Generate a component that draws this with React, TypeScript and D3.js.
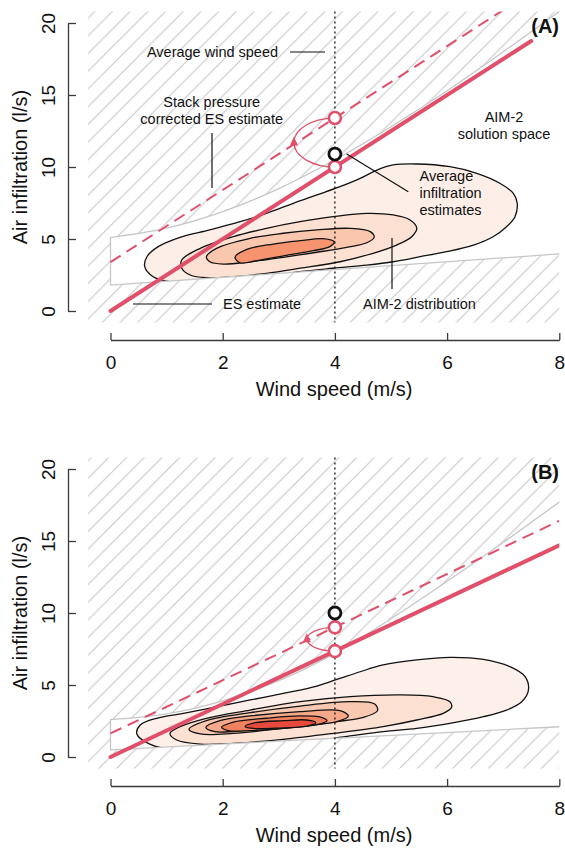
import React, { useEffect, useRef } from "react";
import * as d3 from "d3";

type Pt = [number, number];

const FONT = "'Liberation Sans', Arial, Helvetica, sans-serif";
const RED = "#E1506B";
const AXIS = "#3a3a3a";

// axes
const windTicks = [0, 2, 4, 6, 8];
const flowTicks = [0, 5, 10, 15, 20];
const avgWindSpeed = 4;

// AIM-2 solution space bounds (l/s), upper read at each wind speed, lower at 0 and 8 m/s
const boundWind = [0, 1, 2, 3, 4, 5, 6, 7, 8];
const upperBoundA = [5.1, 5.75, 6.9, 8.5, 10.5, 12.8, 15.3, 18.0, 20.8];
const lowerBoundA = [1.8, 3.96];
const upperBoundB = [2.6, 3.0, 3.9, 5.3, 7.2, 9.6, 12.2, 14.9, 17.7];
const lowerBoundB = [0.5, 2.1];

// ES estimate (solid) and stack pressure corrected ES estimate (dashed)
const esLineA: Pt[] = [[0, 0], [7.5, 18.75]];
const stackLineA: Pt[] = [[0, 3.4], [7.2, 21.4]];
const esLineB: Pt[] = [[0, 0], [8, 14.7]];
const stackLineB: Pt[] = [[0, 1.64], [8, 16.4]];

// estimates at the average wind speed
const esPointA = 10.0, stackPointA = 13.4, aimPointA = 10.9;
const esPointB = 7.35, stackPointB = 9.0, aimPointB = 10.0;

// AIM-2 distribution contours, panel A (outer -> inner)
const contourA1: Pt[] = [[1.06, 2.03], [0.76, 2.38], [0.61, 3.08], [0.65, 3.77], [0.85, 4.47], [1.24, 5.12], [1.77, 5.63], [2.31, 6.2], [2.78, 6.78], [3.26, 7.48], [3.68, 8.06], [4.09, 8.63], [4.45, 9.21], [4.75, 9.79], [5.04, 10.14], [5.46, 10.21], [6.05, 10.02], [6.53, 9.56], [6.94, 8.87], [7.18, 8.17], [7.25, 7.48], [7.21, 6.55], [7.06, 5.85], [6.82, 5.16], [6.47, 4.58], [5.99, 4.12], [5.52, 3.77], [5.04, 3.42], [4.57, 3.19], [3.97, 2.97], [3.38, 2.73], [2.49, 2.2], [1.6, 1.9]];
const contourA2: Pt[] = [[1.27, 3.54], [1.6, 4.35], [2.19, 5.16], [2.78, 5.74], [3.38, 6.2], [3.97, 6.55], [4.57, 6.78], [5.04, 6.67], [5.34, 6.32], [5.46, 5.74], [5.37, 5.16], [5.1, 4.58], [4.68, 4.01], [4.09, 3.42], [3.38, 2.97], [2.78, 2.62], [2.19, 2.38], [1.71, 2.31], [1.42, 2.5], [1.27, 2.97]];
const contourA3: Pt[] = [[1.71, 3.77], [1.89, 4.35], [2.49, 5.05], [3.08, 5.4], [3.68, 5.63], [4.27, 5.74], [4.63, 5.51], [4.7, 5.12], [4.57, 4.74], [4.21, 4.42], [3.68, 4.08], [3.08, 3.73], [2.49, 3.42], [2.01, 3.26], [1.77, 3.42]];
const contourA4: Pt[] = [[2.22, 3.73], [2.43, 4.28], [2.9, 4.65], [3.38, 4.88], [3.79, 5.02], [3.99, 4.79], [3.91, 4.47], [3.62, 4.19], [3.14, 3.87], [2.66, 3.54], [2.31, 3.35]];
const fillsA = ["#FDEFE8", "#FCE0D2", "#F9C6AE", "#F5946F"];

// AIM-2 distribution contours, panel B (outer -> inner)
const contourB1: Pt[] = [[1.18, 0.49], [0.7, 0.9], [0.47, 1.6], [0.53, 2.22], [0.82, 2.69], [1.3, 3.03], [1.89, 3.49], [2.49, 3.96], [3.08, 4.42], [3.68, 4.93], [4.09, 5.46], [4.45, 5.92], [4.86, 6.39], [5.46, 6.74], [6.05, 6.92], [6.65, 6.78], [7.12, 6.27], [7.39, 5.58], [7.45, 4.65], [7.33, 3.84], [7.06, 3.26], [6.65, 2.8], [6.05, 2.34], [5.46, 1.99], [4.86, 1.76], [4.27, 1.46], [3.38, 0.99], [2.19, 0.6]];
const contourB2: Pt[] = [[1.06, 1.64], [1.24, 2.11], [1.71, 2.69], [2.49, 3.26], [3.38, 3.84], [4.27, 4.19], [5.16, 4.31], [5.75, 4.19], [6.05, 3.84], [6.08, 3.45], [5.93, 3.03], [5.46, 2.57], [4.86, 2.11], [3.97, 1.64], [3.08, 1.23], [2.19, 0.95], [1.6, 0.9], [1.18, 1.18]];
const contourB3: Pt[] = [[1.4, 1.92], [1.71, 2.52], [2.49, 3.08], [3.38, 3.54], [4.27, 3.84], [4.71, 3.68], [4.76, 3.22], [4.51, 2.75], [3.97, 2.43], [3.08, 1.99], [2.19, 1.64], [1.6, 1.6]];
const contourB4: Pt[] = [[1.7, 2.06], [1.95, 2.52], [2.49, 2.85], [3.38, 3.15], [4.09, 3.22], [4.24, 2.85], [4.03, 2.45], [3.38, 2.15], [2.49, 1.88], [1.86, 1.76]];
const contourB5: Pt[] = [[1.98, 2.06], [2.19, 2.43], [2.78, 2.69], [3.38, 2.85], [3.76, 2.75], [3.86, 2.52], [3.68, 2.25], [3.08, 1.99], [2.49, 1.83], [2.1, 1.83]];
const contourB6: Pt[] = [[2.4, 2.11], [2.58, 2.38], [3.08, 2.52], [3.5, 2.57], [3.66, 2.38], [3.5, 2.15], [2.96, 2.01], [2.58, 1.97]];
const fillsB = ["#FDF0EA", "#FCE1D3", "#F9C8B1", "#F6A98A", "#F1815F", "#E64A3B"];

// annotation layout for panel A (pixels from panel top)
const notesA = [
  { t: "Average wind speed", x: 212.5, y: 57, a: "middle" },
  { t: "Stack pressure", x: 211.7, y: 107, a: "middle" },
  { t: "corrected ES estimate", x: 211.7, y: 124, a: "middle" },
  { t: "AIM-2", x: 504, y: 122, a: "middle" },
  { t: "solution space", x: 504, y: 138.5, a: "middle" },
  { t: "Average", x: 419.5, y: 180.5, a: "start" },
  { t: "infiltration", x: 419.5, y: 197.8, a: "start" },
  { t: "estimates", x: 419.5, y: 215, a: "start" },
  { t: "ES estimate", x: 223, y: 309, a: "start" },
  { t: "AIM-2 distribution", x: 363, y: 309, a: "start" },
];
const leadersA = [
  [290, 52, 325, 52],
  [212, 133, 212, 188],
  [346.7, 154, 408.3, 191.7],
  [133, 304, 212, 304],
  [392, 238, 392, 289],
];

function Panel(props: any) {
  const { id, top, label, upper, lower, contours, fills, esLine, stackLine, esAt, stackAt, aimAt, arcRx, notes } = props;
  const xAxisRef = useRef<SVGGElement>(null);
  const yAxisRef = useRef<SVGGElement>(null);

  const x = d3.scaleLinear().domain([0, 8]).range([110.5, 559.3]);
  const y = d3.scaleLinear().domain([0, 20]).range([top + 311, top + 23]);

  useEffect(() => {
    const gx = d3.select(xAxisRef.current);
    gx.call(
      d3.axisBottom(x).tickValues(windTicks).tickSizeInner(-7).tickSizeOuter(0)
        .tickPadding(16).tickFormat(d3.format("d"))
    );
    gx.attr("font-size", 19).attr("font-family", FONT);
    gx.select(".domain").attr("stroke", AXIS).attr("stroke-width", 1.3);
    gx.selectAll(".tick line").attr("stroke", AXIS).attr("stroke-width", 1.3);
    gx.selectAll(".tick text").attr("fill", "#111");

    const gy = d3.select(yAxisRef.current);
    gy.call(
      d3.axisLeft(y).tickValues(flowTicks).tickSizeInner(-8).tickSizeOuter(0)
        .tickFormat(d3.format("d"))
    );
    gy.attr("font-size", 19).attr("font-family", FONT);
    gy.select(".domain").attr("stroke", AXIS).attr("stroke-width", 1.3);
    gy.selectAll(".tick line").attr("stroke", AXIS).attr("stroke-width", 1.3);
    gy.selectAll(".tick text")
      .attr("fill", "#111")
      .attr("x", 0)
      .attr("dy", null)
      .attr("text-anchor", "middle")
      .attr("transform", "translate(-13,0) rotate(-90)");
  }, []);

  const x0 = x(-0.4), x1 = x(8), yTop = y(20.8), yBot = y(-0.8);
  const rectPath = `M${x0},${yTop}H${x1}V${yBot}H${x0}Z`;

  const upperPts: Pt[] = boundWind.map((w, i) => [w, upper[i]]);
  const boundLine = d3.line<Pt>().x((d) => x(d[0])).y((d) => y(d[1])).curve(d3.curveCatmullRom.alpha(0.5));
  const upperRev = (boundLine([...upperPts].reverse()) || "").replace(/^M/, "L");
  const solutionPath = `M${x(0)},${y(lower[0])}L${x(8)},${y(lower[1])}` + upperRev + "Z";
  const outlinePath = `M${x(8)},${y(lower[1])}L${x(0)},${y(lower[0])}L${x(0)},${y(upper[0])}` +
    (boundLine(upperPts) || "").replace(/^M/, "L");

  const contourLine = d3.line<Pt>().x((d) => x(d[0])).y((d) => y(d[1])).curve(d3.curveCatmullRomClosed.alpha(0.5));
  const straight = d3.line<Pt>().x((d) => x(d[0])).y((d) => y(d[1]));

  const cx = x(avgWindSpeed);
  const yEs = y(esAt), yStack = y(stackAt);
  const ry = (yEs - yStack) / 2;
  const arcPath = `M${cx},${yEs} A${arcRx},${ry} 0 0 1 ${cx},${yStack}`;
  const ax = cx - arcRx, ay = (yEs + yStack) / 2;

  return (
    <g>
      <defs>
        <clipPath id={`sol-${id}`}>
          <path d={solutionPath} />
        </clipPath>
        <clipPath id={`plot-${id}`}>
          <path d={rectPath} />
        </clipPath>
      </defs>

      {/* hatched area outside the AIM-2 solution space */}
      <path d={rectPath + solutionPath} fill="url(#hatch)" fillRule="evenodd" />

      {/* AIM-2 distribution */}
      <g clipPath={`url(#sol-${id})`}>
        {contours.map((c: Pt[], i: number) => (
          <path key={i} d={contourLine(c) || ""} fill={fills[i]} stroke="#111" strokeWidth={1.3} />
        ))}
      </g>
      <path d={outlinePath} fill="none" stroke="#C6C6C6" strokeWidth={1.3} />

      {/* average wind speed */}
      <line x1={cx} x2={cx} y1={yTop} y2={yBot} stroke="#111" strokeWidth={1.3} strokeDasharray="2,3" />

      <g clipPath={`url(#plot-${id})`}>
        <path d={straight(stackLine) || ""} fill="none" stroke={RED} strokeWidth={2} strokeDasharray="12,7" />
        <path d={straight(esLine) || ""} fill="none" stroke={RED} strokeWidth={4} strokeLinecap="round" />
      </g>

      <path d={arcPath} fill="none" stroke={RED} strokeWidth={1.3} />
      <path d={`M${ax},${ay - 6}L${ax - 4},${ay + 3}L${ax + 4},${ay + 3}Z`} fill={RED} />

      <circle cx={cx} cy={yStack} r={6} fill="#fff" stroke={RED} strokeWidth={2.6} />
      <circle cx={cx} cy={yEs} r={6} fill="#fff" stroke={RED} strokeWidth={2.6} />
      <circle cx={cx} cy={y(aimAt)} r={6} fill="#fff" stroke="#111" strokeWidth={2.8} />

      {notes && (
        <g fontFamily={FONT} fontSize={14.5} fill="#111">
          {leadersA.map((l, i) => (
            <line key={i} x1={l[0]} y1={top + l[1]} x2={l[2]} y2={top + l[3]} stroke="#111" strokeWidth={1.2} />
          ))}
          {notesA.map((n, i) => (
            <text key={i} x={n.x} y={top + n.y} textAnchor={n.a}>{n.t}</text>
          ))}
        </g>
      )}

      <text x={559} y={top + 33} textAnchor="end" fontFamily={FONT} fontWeight="bold" fontSize={20} fill="#111">
        {label}
      </text>

      <g ref={xAxisRef} transform={`translate(0,${top + 340})`} />
      <g ref={yAxisRef} transform={`translate(68,0)`} />

      <text x={334} y={top + 396} textAnchor="middle" fontFamily={FONT} fontSize={20} fill="#111">
        Wind speed (m/s)
      </text>
      <text transform={`translate(27,${top + 167}) rotate(-90)`} textAnchor="middle" fontFamily={FONT} fontSize={20} fill="#111">
        Air infiltration (l/s)
      </text>
    </g>
  );
}

export default function App() {
  return (
    <div style={{ position: "absolute", left: 0, top: 0 }}>
      <svg width={565} height={850} style={{ display: "block", background: "#fff" }}>
        <defs>
          <pattern id="hatch" patternUnits="userSpaceOnUse" width={17.7} height={17.7}>
            <path d="M0,17.7L17.7,0M-4,4L4,-4M13.7,21.7L21.7,13.7" stroke="#C4C4C4" strokeWidth={1} />
          </pattern>
        </defs>
        <Panel
          id="A" top={0} label="(A)"
          upper={upperBoundA} lower={lowerBoundA}
          contours={[contourA1, contourA2, contourA3, contourA4]} fills={fillsA}
          esLine={esLineA} stackLine={stackLineA}
          esAt={esPointA} stackAt={stackPointA} aimAt={aimPointA}
          arcRx={41} notes={true}
        />
        <Panel
          id="B" top={446} label="(B)"
          upper={upperBoundB} lower={lowerBoundB}
          contours={[contourB1, contourB2, contourB3, contourB4, contourB5, contourB6]} fills={fillsB}
          esLine={esLineB} stackLine={stackLineB}
          esAt={esPointB} stackAt={stackPointB} aimAt={aimPointB}
          arcRx={28} notes={false}
        />
      </svg>
    </div>
  );
}
